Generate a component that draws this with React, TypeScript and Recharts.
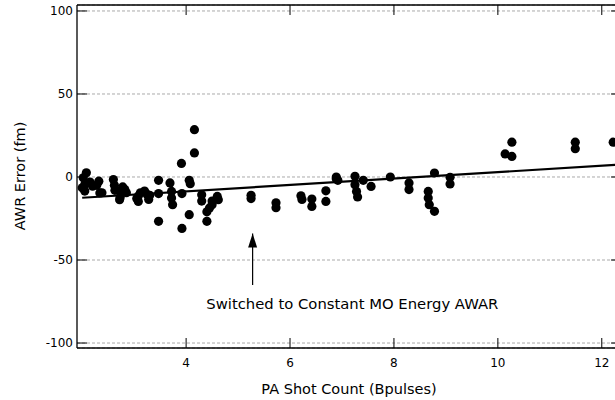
import React from 'react';
import { ComposedChart, Scatter, XAxis, YAxis, CartesianGrid } from 'recharts';

// shot count (Bpulses) and AWR error (fm)
const shotX = [
  2.02, 2.08, 2.05, 2.0, 2.05, 2.15, 2.2, 2.32, 2.38, 2.28, 2.34,
  2.6, 2.62, 2.63, 2.72, 2.73, 2.78, 2.82, 2.85, 2.72,
  3.05, 3.08, 3.12, 3.2, 3.25, 3.28, 3.3, 3.47, 3.47, 3.47, 3.08,
  3.69, 3.72, 3.72, 3.74, 3.92, 3.92, 3.91,
  4.06, 4.08, 4.06, 4.16, 4.16, 4.3, 4.3, 4.4, 4.4, 4.45, 4.5, 4.5, 4.6, 4.62,
  5.25, 5.25, 5.73, 5.73, 6.21, 6.23, 6.42, 6.42, 6.69, 6.69, 6.89, 6.89, 6.92,
  7.25, 7.25, 7.28, 7.3, 7.41, 7.56, 7.93, 8.29, 8.29,
  8.66, 8.66, 8.68, 8.78, 8.78, 9.08, 9.08,
  10.14, 10.27, 10.27, 11.49, 11.49, 12.22,
];
const errY = [
  -0.5, 2.5, -4.5, -6.5, -8.5, -3, -5.5, -2.5, -9.5, -5, -9.6,
  -1.5, -5, -8, -8.5, -12.3, -6, -7.5, -9.5, -13.7,
  -13, -11.5, -9.5, -8.5, -10.5, -13.5, -11, -2, -10, -26.7, -14.7,
  -3.6, -8.7, -12.7, -16.7, -10, -31, 8.2,
  -2, -4, -22.7, 14.5, 28.5, -10.7, -14.5, -21, -26.7, -18.7, -16.7, -14.5, -11.7, -13.7,
  -11, -13, -15.5, -18.5, -11.3, -13.5, -13.3, -17.7, -8.3, -14.7, -1, 0, -2,
  0.4, -4.6, -8.7, -12, -2, -5.7, 0, -3.6, -7.6,
  -8.7, -12.7, -16.7, -20.7, 2.4, -0.2, -4.2,
  13.9, 12.4, 21, 21, 17, 21,
];

// linear fit
const fitX = [2.0, 12.37];
const fitY = [-12.5, 7.5];

// annotation arrow
const arrowX = [5.28, 5.28];
const arrowY = [-65, -34];
const noteX = [7.2];
const noteY = [-76];
const noteText = 'Switched to Constant MO Energy AWAR';

const xTicks = [4, 6, 8, 10, 12];
const yTicks = [-100, -50, 0, 50, 100];
const xDomain = [1.9, 12.37];
const yDomain = [-103, 103.6];

const points = shotX.map((x, i) => ({ x, y: errY[i] }));
const fit = fitX.map((x, i) => ({ x, y: fitY[i] }));
const arrow = arrowX.map((x, i) => ({ x, y: arrowY[i], tip: i === 1 }));
const note = noteX.map((x, i) => ({ x, y: noteY[i] }));

const font = 'DejaVu Sans';
const labelStyle = { fontFamily: font, fontSize: 12, fill: '#000' };
const frame = { stroke: '#000', strokeWidth: 1.3 };

// ticks point into the plot, so draw the little lines ourselves
const BottomTick = (p: any) => (
  <g>
    <line x1={p.x} x2={p.x} y1={p.y - 10} y2={p.y - 20} stroke="#000" />
    <text x={p.x} y={p.y} dy="0.71em" textAnchor="middle" style={labelStyle}>{p.payload.value}</text>
  </g>
);
const LeftTick = (p: any) => (
  <g>
    <line x1={p.x + 4} x2={p.x + 14} y1={p.y} y2={p.y} stroke="#000" />
    <text x={p.x} y={p.y} dy="0.355em" textAnchor="end" style={labelStyle}>{p.payload.value}</text>
  </g>
);
const TopTick = (p: any) => <line x1={p.x} x2={p.x} y1={p.y} y2={p.y + 10} stroke="#000" />;
const RightTick = (p: any) => <line x1={p.x} x2={p.x - 10} y1={p.y} y2={p.y} stroke="#000" />;

const Dot = (p: any) => <circle cx={p.cx} cy={p.cy} r={4.6} fill="#000" />;
const Blank = () => <g />;
const ArrowHead = (p: any) =>
  p.payload && p.payload.tip ? (
    <path d={`M${p.cx},${p.cy} L${p.cx - 4.5},${p.cy + 14} L${p.cx + 4.5},${p.cy + 14} Z`} fill="#000" />
  ) : (
    <g />
  );
const NoteText = (p: any) => (
  <text x={p.cx} y={p.cy} textAnchor="middle" dominantBaseline="central"
    style={{ fontFamily: font, fontSize: 14.8, fill: '#000' }}>
    {noteText}
  </text>
);

export default function App() {
  return (
    <div style={{ position: 'fixed', left: 0, top: 0, width: 615, height: 400, overflow: 'hidden', background: '#fff' }}>
      <ComposedChart width={640} height={400} margin={{ top: 4, right: 18, bottom: 0, left: 0 }}>
        <CartesianGrid xAxisId="b" yAxisId="l" vertical={false} stroke="#aaa" strokeDasharray="3 2" />
        <XAxis xAxisId="b" dataKey="x" type="number" orientation="bottom" domain={xDomain}
          allowDataOverflow ticks={xTicks} height={52} tickSize={6} tickMargin={4} tickLine={false}
          tick={BottomTick} axisLine={frame}
          label={{ value: 'PA Shot Count (Bpulses)', position: 'insideBottom', offset: 6,
            style: { fontFamily: font, fontSize: 14.5, fill: '#000' } }} />
        <XAxis xAxisId="t" dataKey="x" type="number" orientation="top" domain={xDomain} allowDataOverflow
          ticks={xTicks} height={1} tickSize={0} tickMargin={0} tickLine={false} tick={TopTick} axisLine={frame} />
        <YAxis yAxisId="l" dataKey="y" type="number" orientation="left" domain={yDomain}
          allowDataOverflow ticks={yTicks} width={77} tickSize={2} tickMargin={2} tickLine={false}
          tick={LeftTick} axisLine={frame}
          label={{ content: () => (
            <text x={25} y={176} transform="rotate(-90, 25, 176)" textAnchor="middle"
              style={{ fontFamily: font, fontSize: 14.5, fill: '#000' }}>AWR Error (fm)</text>
          ) }} />
        <YAxis yAxisId="r" dataKey="y" type="number" orientation="right" domain={yDomain} allowDataOverflow
          ticks={yTicks} width={1} tickSize={0} tickMargin={0} tickLine={false} tick={RightTick} axisLine={frame} />
        <Scatter data={points} xAxisId="b" yAxisId="l" shape={Dot} isAnimationActive={false} />
        <Scatter data={fit} xAxisId="b" yAxisId="l" shape={Blank}
          line={{ stroke: '#000', strokeWidth: 2.2 }} isAnimationActive={false} />
        <Scatter data={arrow} xAxisId="b" yAxisId="l" shape={ArrowHead}
          line={{ stroke: '#000', strokeWidth: 1.2 }} isAnimationActive={false} />
        <Scatter data={note} xAxisId="t" yAxisId="r" shape={NoteText} isAnimationActive={false} />
      </ComposedChart>
    </div>
  );
}
